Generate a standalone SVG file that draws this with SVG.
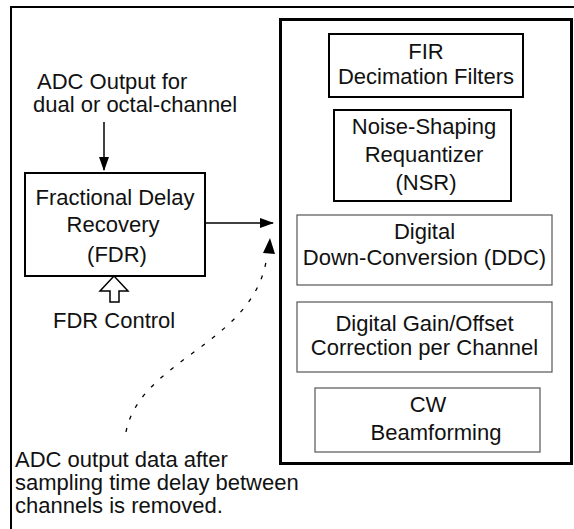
<svg xmlns="http://www.w3.org/2000/svg" width="574" height="529" viewBox="0 0 574 529">
<style>
text{font-family:"Liberation Sans",Arial,sans-serif;font-size:22px;fill:#111}
.c{text-anchor:middle}
.box{fill:#fff;stroke:#000;stroke-width:2}
.thin{fill:#fff;stroke:#555;stroke-width:1.2}
.ln{fill:none;stroke:#000;stroke-width:1.5}
</style>
<defs>
<marker id="ah" viewBox="0 0 14 10" refX="13" refY="5" markerWidth="14" markerHeight="10" markerUnits="userSpaceOnUse" orient="auto">
<path d="M0,0 L14,5 L0,10 Z" fill="#000"/>
</marker>
</defs>
<rect width="574" height="529" fill="#fff"/>
<path d="M11,529 V7 H574" fill="none" stroke="#000" stroke-width="2"/>
<g id="core">
<rect x="280.5" y="19.5" width="291" height="444" fill="#fff" stroke="#000" stroke-width="3"/>
</g>
<g id="fir">
<rect class="box" x="329" y="34" width="194" height="63"/>
<text class="c" x="426" y="59">FIR</text>
<text class="c" x="426" y="84">Decimation Filters</text>
</g>
<g id="nsr">
<rect class="box" x="334" y="110" width="177" height="91"/>
<text class="c" x="424" y="134">Noise-Shaping</text>
<text class="c" x="424" y="162">Requantizer</text>
<text class="c" x="426" y="190">(NSR)</text>
</g>
<g id="ddc">
<rect class="thin" x="297" y="215" width="255" height="70"/>
<text class="c" x="424.5" y="239">Digital</text>
<text class="c" x="424.5" y="265">Down-Conversion (DDC)</text>
</g>
<g id="gain">
<rect class="thin" x="297" y="302" width="255" height="70"/>
<text class="c" x="424.5" y="331">Digital Gain/Offset</text>
<text class="c" x="424.5" y="355">Correction per Channel</text>
</g>
<g id="cw">
<rect class="thin" x="315" y="388" width="225" height="64"/>
<text class="c" x="428" y="412">CW</text>
<text class="c" x="436" y="440">Beamforming</text>
</g>
<g id="fdr">
<rect class="box" x="25" y="173" width="180" height="103"/>
<text class="c" x="115" y="205">Fractional Delay</text>
<text class="c" x="113" y="232">Recovery</text>
<text class="c" x="117" y="262">(FDR)</text>
</g>
<g id="adc-input">
<text x="37" y="89">ADC Output for</text>
<text x="33" y="112">dual or octal-channel</text>
</g>
<g id="fdr-control">
<polygon points="114,276 100,291 110,291 110,302 119,302 119,291 128,291" fill="#fff" stroke="#000" stroke-width="1.5"/>
<text x="53" y="328">FDR Control</text>
</g>
<g id="note">
<text x="15" y="467">ADC output data after</text>
<text x="15" y="490">sampling time delay between</text>
<text x="15" y="513">channels is removed.</text>
</g>
<g id="connectors">
<line class="ln" x1="104" y1="122" x2="104" y2="170" marker-end="url(#ah)"/>
<line class="ln" x1="205" y1="223" x2="273" y2="223" marker-end="url(#ah)"/>
<path d="M126,432 C140,360 250,345 266,262" fill="none" stroke="#000" stroke-width="1.3" stroke-dasharray="4,9"/>
<path d="M270,238 L275,254 L263,253 Z" fill="#000"/>
</g>
</svg>
